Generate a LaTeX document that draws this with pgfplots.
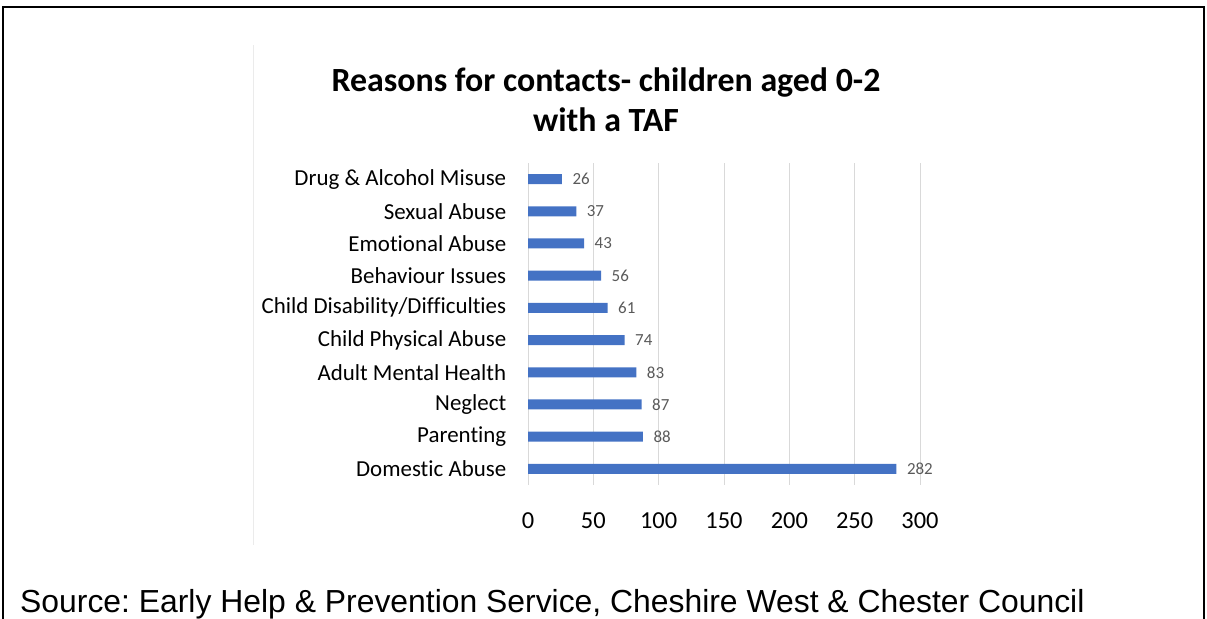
\documentclass[border=0pt]{standalone}
\usepackage{pgfplots}
\pgfplotsset{compat=1.18}
\usepackage{fontspec}
\setmainfont{Carlito}[RawFeature={-liga}]
\newfontfamily\arial{Liberation Sans}
\definecolor{barblue}{HTML}{4472C4}
\definecolor{gridgray}{HTML}{D9D9D9}
\definecolor{lblgray}{HTML}{595959}
\begin{document}
\frenchspacing
\begin{tikzpicture}[x=1bp,y=1bp]
\useasboundingbox (0,0) rectangle (1207,619);
\draw[line width=1.6bp] (3,0) -- (3,612) -- (1204,612) -- (1204,0);
\draw[line width=0.6bp, color=black!8] (253,74) -- (253,574);
\node[font=\fontsize{34}{40}\selectfont\bfseries, align=center] at (606,519) {Reasons for contacts- children aged 0-2\\with a TAF};
\node[font=\arial\fontsize{32}{36}\selectfont, anchor=west, inner sep=0] at (20,15) {Source: Early Help \& Prevention Service, Cheshire West \& Chester Council};
\begin{axis}[
  at={(528bp,134bp)}, anchor=south west,
  scale only axis, width=392bp, height=322bp,
  xbar, bar width=10bp,
  xmin=0, xmax=300,
  ymin=-0.5, ymax=9.5,
  xtick={0,50,...,300},
  ytick={0,...,9},
  yticklabels={Domestic Abuse,Parenting,Neglect,Adult Mental Health,Child Physical Abuse,Child Disability/Difficulties,Behaviour Issues,Emotional Abuse,Sexual Abuse,Drug \& Alcohol Misuse},
  axis line style={draw=none},
  tick style={draw=none},
  xmajorgrids, grid style={gridgray, line width=1bp},
  yticklabel style={font=\fontsize{23}{26}\selectfont, xshift=-14bp},
  xticklabel style={font=\fontsize{24.5}{28}\selectfont, yshift=-24bp},
  /pgf/number format/assume math mode=true,
  nodes near coords,
  every node near coord/.append style={font=\fontsize{17}{20}\selectfont, color=lblgray, anchor=west, xshift=7bp},
]
\addplot[fill=barblue, draw=none] coordinates {
(282,0) (88,1) (87,2) (83,3) (74,4) (61,5) (56,6) (43,7) (37,8) (26,9)
};
\end{axis}
\end{tikzpicture}
\end{document}
